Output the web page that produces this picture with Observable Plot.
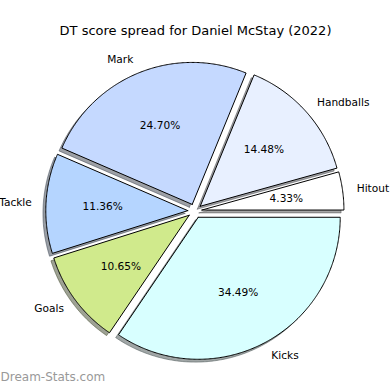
<!DOCTYPE html>
<html>
<head>
<meta charset="utf-8">
<script src="https://cdn.jsdelivr.net/npm/d3@7"></script>
<script src="https://cdn.jsdelivr.net/npm/@observablehq/plot@0.6"></script>
<style>
  html, body { margin: 0; padding: 0; background: #fff; }
  #chart svg { display: block; }
</style>
</head>
<body>
<div id="chart"></div>
<script>
const title = "DT score spread for Daniel McStay (2022)";
const watermark = "Dream-Stats.com";
const categories = ["Hitout", "Handballs", "Mark", "Tackle", "Goals", "Kicks"];
const shares = [4.33, 14.48, 24.70, 11.36, 10.65, 34.49];
const pctLabels = ["4.33%", "14.48%", "24.70%", "11.36%", "10.65%", "34.49%"];
const sliceColors = ["#ffffff", "#e8f0ff", "#c5d9ff", "#b5d5ff", "#d0ea8c", "#d8ffff"];
const explode = [0.05, 0.05, 0.05, 0.05, 0.05, 0.05];

const total = d3.sum(shares);
const rad = Math.PI / 180;
const slices = [];
let start = 0;
shares.forEach((v, i) => {
  const end = start + 360 * v / total;
  const mid = (start + end) / 2;
  const ox = explode[i] * Math.cos(mid * rad);
  const oy = explode[i] * Math.sin(mid * rad);
  slices.push({name: categories[i], pct: pctLabels[i], color: sliceColors[i], start, end, mid, ox, oy});
  start = end;
});

function polygon(s, dx, dy, fill, key) {
  const pts = [{x: s.ox + dx, y: s.oy + dy, key, fill}];
  const n = Math.max(4, Math.ceil((s.end - s.start) / 0.5));
  for (let k = 0; k <= n; k++) {
    const a = (s.start + (s.end - s.start) * k / n) * rad;
    pts.push({x: s.ox + dx + Math.cos(a), y: s.oy + dy + Math.sin(a), key, fill});
  }
  pts.push({x: s.ox + dx, y: s.oy + dy, key, fill});
  return pts;
}

function darken(c) {
  const r = d3.rgb(c);
  return d3.rgb(r.r * 0.3, r.g * 0.3, r.b * 0.3).formatHex();
}

const shadowPts = slices.flatMap(s => polygon(s, -0.02, -0.02, darken(s.color), "sh-" + s.name));
const slicePts = slices.flatMap(s => polygon(s, 0, 0, s.color, s.name));

const labelR = 1.1, pctR = 0.6;
const labelData = slices.map(s => ({
  name: s.name,
  x: s.ox + labelR * Math.cos(s.mid * rad),
  y: s.oy + labelR * Math.sin(s.mid * rad),
  right: Math.cos(s.mid * rad) >= 0
}));
const pctData = slices.map(s => ({
  pct: s.pct,
  x: s.ox + pctR * Math.cos(s.mid * rad),
  y: s.oy + pctR * Math.sin(s.mid * rad)
}));

const font = "DejaVu Sans";
const cxPix = 194.4, cyPix = 210.5, Rpix = 142, W = 390, H = 390;

const chart = Plot.plot({
  width: W,
  height: H,
  margin: 0,
  style: {background: "#fff", fontFamily: font},
  x: {axis: null, domain: [-cxPix / Rpix, (W - cxPix) / Rpix]},
  y: {axis: null, domain: [-(H - cyPix) / Rpix, cyPix / Rpix]},
  color: {type: "identity"},
  marks: [
    Plot.line(shadowPts, {x: "x", y: "y", z: "key", fill: "fill", stroke: "fill", fillOpacity: 0.5, strokeOpacity: 0.5, strokeWidth: 1, curve: "linear"}),
    Plot.line(slicePts, {x: "x", y: "y", z: "key", fill: "fill", stroke: "black", strokeWidth: 1, curve: "linear"}),
    Plot.text(labelData.filter(d => d.right), {x: "x", y: "y", text: "name", textAnchor: "start", fontSize: 10.6, fill: "black", fontFamily: font}),
    Plot.text(labelData.filter(d => !d.right), {x: "x", y: "y", text: "name", textAnchor: "end", fontSize: 10.6, fill: "black", fontFamily: font}),
    Plot.text(pctData, {x: "x", y: "y", text: "pct", textAnchor: "middle", fontSize: 10.6, fill: "black", fontFamily: font}),
    Plot.text([title], {frameAnchor: "top", dy: 25, text: d => d, fontSize: 13, fill: "black", fontFamily: font}),
    Plot.text([watermark], {frameAnchor: "bottom-left", dy: -9.5, dx: 0, text: d => d, textAnchor: "start", fontSize: 12, fill: "#999999", fontWeight: "normal", fontFamily: font})
  ]
});
document.getElementById("chart").appendChild(chart);
</script>
</body>
</html>
